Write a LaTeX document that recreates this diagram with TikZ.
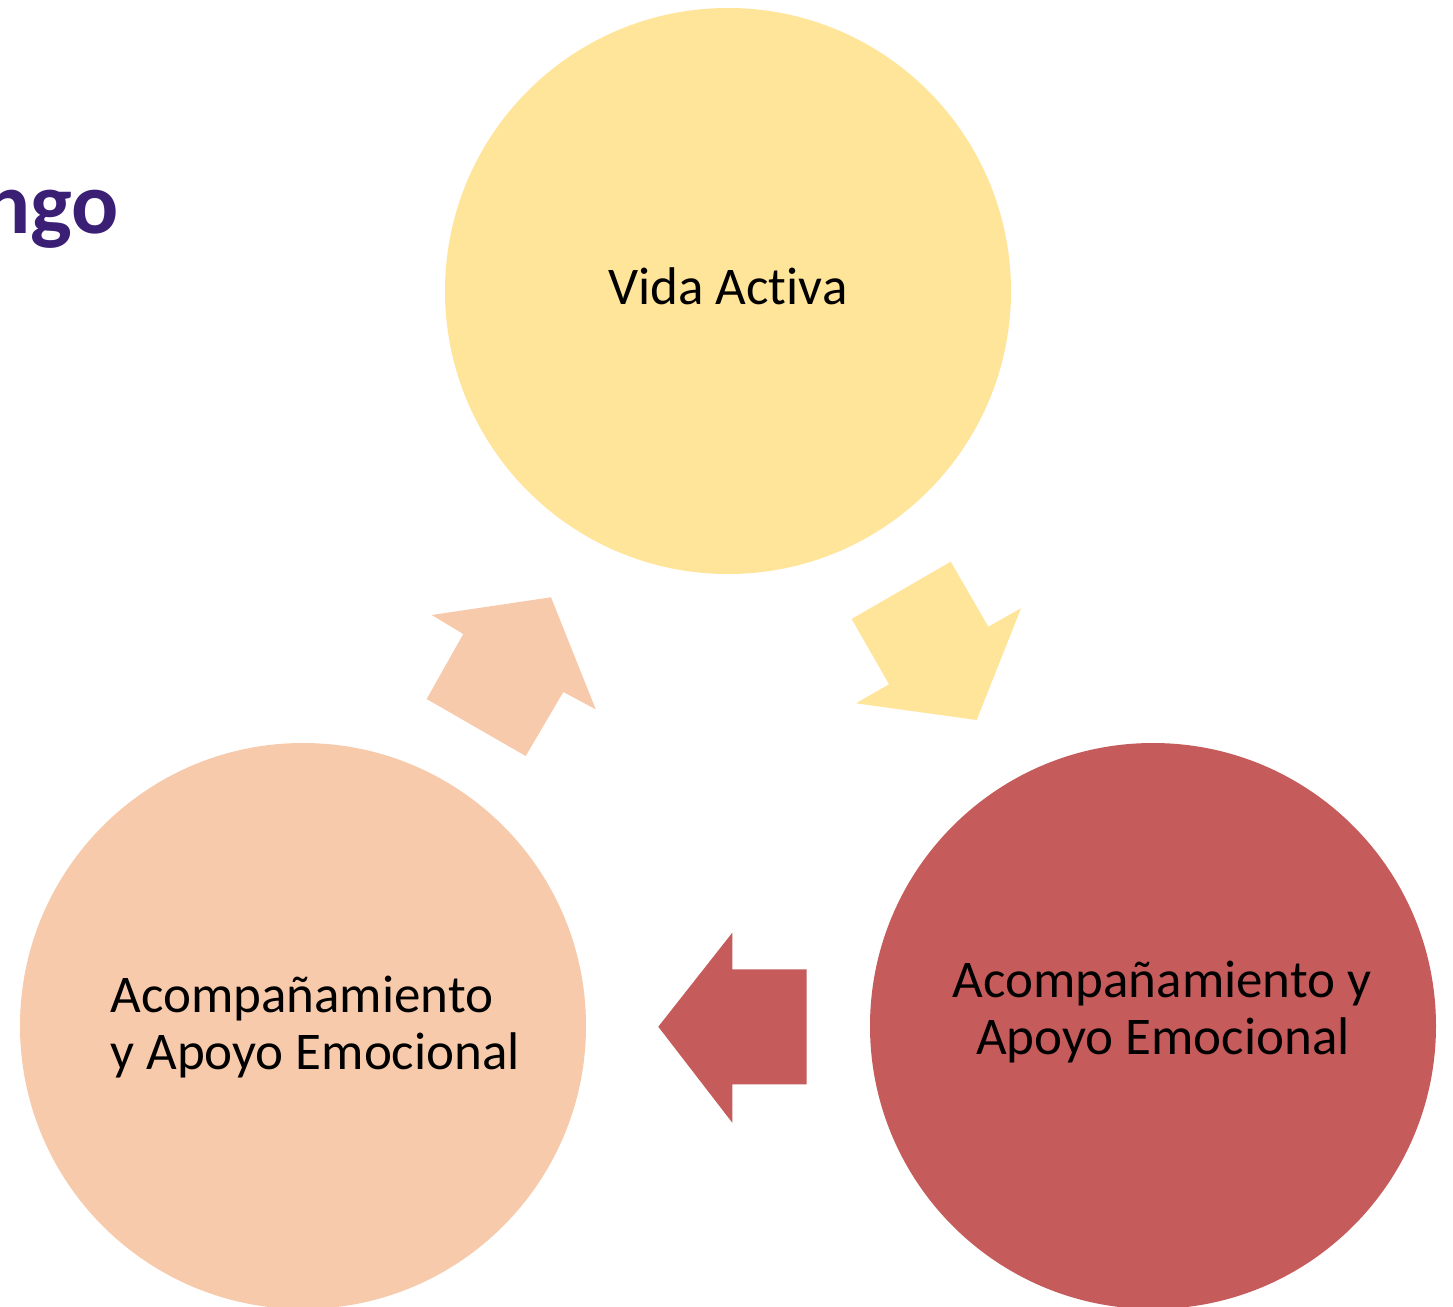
\documentclass[tikz,border=0pt]{standalone}
\usepackage{fontspec}
\setmainfont[Ligatures=NoCommon]{Carlito}
\definecolor{cyellow}{HTML}{FFE599}
\definecolor{cpeach}{HTML}{F7CAAC}
\definecolor{cred}{HTML}{C65B5B}
\definecolor{cpurple}{RGB}{58,31,117}
\begin{document}
\begin{tikzpicture}[x=0.5pt,y=-0.5pt,
  bubble/.style={circle,inner sep=0pt,minimum size=283pt},
  lbl/.style={inner sep=0pt,anchor=base,font=\fontsize{26.5pt}{28.5pt}\selectfont},
  lbll/.style={inner sep=0pt,anchor=base west,font=\fontsize{26.5pt}{28.5pt}\selectfont}]
\useasboundingbox[fill=white] (0,0) rectangle (1453,1307);
% title fragment (cut off at the left edge, as in the reference)
\node[inner sep=0pt,anchor=base east,text=cpurple,font=\fontsize{44pt}{48pt}\selectfont\bfseries] (title) at (119,233) {ngo};
% circles
\node[bubble,fill=cyellow] (top) at (728,291) {};
\node[bubble,fill=cpeach] (left) at (303,1026) {};
\node[bubble,fill=cred] (right) at (1153,1026) {};
% block arrows
\fill[cyellow] (851.7,619) -- (950.7,561.7) -- (988.3,626.7) -- (1021,608.3) -- (976.7,720) -- (856,703.3) -- (889,684.3) -- cycle;
\fill[cpeach] (431.7,615) -- (551,597.3) -- (595.7,709.3) -- (563.3,692) -- (525.7,756) -- (426.7,699) -- (463.3,634) -- cycle;
\fill[cred] (806.7,969.3) -- (732.3,969.3) -- (732.3,932.7) -- (658.3,1026.7) -- (732.3,1122.7) -- (732.3,1084.3) -- (806.7,1084.3) -- cycle;
% labels
\node[lbl] (topt) at (728,304) {Vida Activa};
\node[lbl] (rt1) at (1162,997) {Acompañamiento y};
\node[lbl] (rt2) at (1163,1054) {Apoyo Emocional};
\node[lbll] (lt1) at (110,1012) {Acompañamiento};
\node[lbll] (lt2) at (110,1069) {y Apoyo Emocional};
\end{tikzpicture}
\end{document}
